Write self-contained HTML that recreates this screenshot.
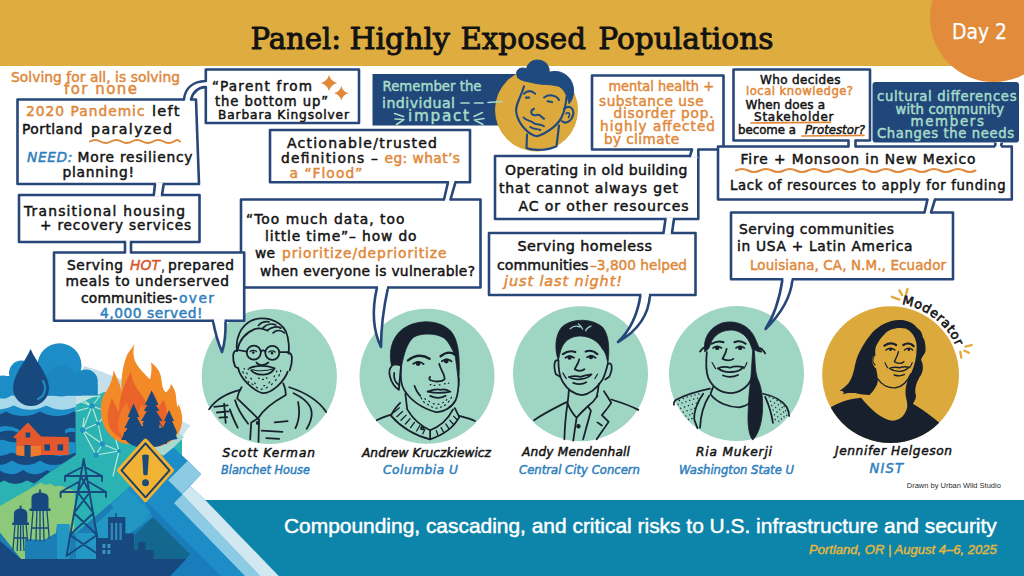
<!DOCTYPE html>
<html lang="en"><head><meta charset="utf-8"><title>Panel: Highly Exposed Populations</title>
<style>
html,body{margin:0;padding:0;background:#fff}
body{width:1024px;height:576px;overflow:hidden}
svg{display:block}
text{white-space:pre}
</style></head><body>
<svg width="1024" height="576" viewBox="0 0 1024 576">
<rect x="0" y="0" width="1024" height="66" fill="#DFAC3F"/>
<circle cx="994" cy="18" r="64" fill="#E18B3B"/>
<text x="250.4" y="48.8" textLength="90.8" lengthAdjust="spacingAndGlyphs" font-family="'DejaVu Serif','Liberation Serif',serif" font-size="30" fill="#121212" stroke="#121212" stroke-width="0.95" stroke-linejoin="round">Panel:</text>
<text x="349.4" y="48.8" textLength="100.6" lengthAdjust="spacingAndGlyphs" font-family="'DejaVu Serif','Liberation Serif',serif" font-size="30" fill="#121212" stroke="#121212" stroke-width="0.95" stroke-linejoin="round">Highly</text>
<text x="460.4" y="48.8" textLength="125.6" lengthAdjust="spacingAndGlyphs" font-family="'DejaVu Serif','Liberation Serif',serif" font-size="30" fill="#121212" stroke="#121212" stroke-width="0.95" stroke-linejoin="round">Exposed</text>
<text x="598.2" y="48.8" textLength="175.3" lengthAdjust="spacingAndGlyphs" font-family="'DejaVu Serif','Liberation Serif',serif" font-size="30" fill="#121212" stroke="#121212" stroke-width="0.95" stroke-linejoin="round">Populations</text>
<text x="952.0" y="38.7" textLength="55.0" lengthAdjust="spacingAndGlyphs" font-family="'DejaVu Sans','Liberation Sans',sans-serif" font-size="21.5" fill="#fff" stroke="#fff" stroke-width="0.25" stroke-linejoin="round">Day 2</text>
<circle cx="269.3" cy="376.5" r="67.6" fill="#9FD5C3"/>
<circle cx="427" cy="376.3" r="67.5" fill="#9FD5C3"/>
<circle cx="580.5" cy="373.7" r="67.5" fill="#9FD5C3"/>
<circle cx="736.5" cy="373.6" r="67.5" fill="#9FD5C3"/>
<circle cx="890.6" cy="374.6" r="68.4" fill="#DCA93C"/>
<g transform="translate(196,300) scale(0.26042)" fill="none" stroke="#18202E" stroke-width="6.8" stroke-linecap="round" stroke-linejoin="round">
<path d="M158 195 C150 150 170 100 215 78 C260 60 320 75 345 120 C358 150 358 190 355 205"/>
<path d="M158 195 C140 190 138 225 150 255 L162 262"/>
<path d="M355 205 C372 200 372 235 360 270"/>
<path d="M162 262 C170 300 215 345 255 358 C295 358 340 310 352 275"/>
<path d="M240 98 C250 86 265 82 280 84 M258 106 C272 92 292 90 306 96 M275 116 C290 102 312 100 326 108 M296 126 C310 114 328 116 340 126 M158 195 C165 160 185 128 225 112 C250 104 262 112 275 118"/>
<circle cx="222" cy="202" r="27"/><circle cx="293" cy="203" r="27"/><path d="M249 198 C255 192 262 192 266 198 M195 198 L160 192 M320 200 L352 200"/>
<path d="M208 198 C214 192 226 192 232 198 M280 200 C286 194 298 194 304 200" stroke-width="5"/><circle cx="220" cy="202" r="5" fill="#18202E" stroke="none"/><circle cx="292" cy="204" r="5" fill="#18202E" stroke="none"/>
<path d="M232 240 C240 252 262 254 278 240"/>
<path d="M205 262 C230 250 270 250 302 262 C285 292 235 295 212 270"/>
<path d="M215 268 C245 274 275 272 298 264" stroke-width="4"/>
<path d="M180 275 l2 6 M190 295 l3 5 M200 312 l3 4 M215 322 l4 3 M232 335 l4 3 M250 342 l5 0 M270 338 l4 -3 M290 325 l3 -4 M305 310 l3 -5 M318 292 l2 -6 M195 280 l2 4 M210 300 l3 4 M225 318 l3 3 M300 295 l2 -4 M280 318 l3 -3 M260 330 l4 -1 M240 300 l3 1 M255 305 l4 0 M270 300 l3 -1 M185 262 l1 4 M325 270 l0 5 M200 265 l1 3 M310 272 l-1 4" stroke-width="4.5"/>
<path d="M175 335 C165 350 160 365 158 378 L238 455 C255 425 300 390 345 365 C345 345 340 330 335 320"/>
<path d="M170 345 C130 355 80 375 50 420 M358 335 C420 355 470 385 500 430"/>
<path d="M238 455 L212 470 L208 535 M242 458 L240 545"/>
<circle cx="237" cy="472" r="4" fill="#18202E"/>
<path d="M302 470 L352 465 M252 502 L332 506 M270 530 L320 533"/>
<path d="M375 358 C430 385 470 420 425 495 M392 392 C400 430 395 465 382 492 M150 385 C160 420 180 450 200 475 M130 420 C140 450 150 470 160 490"/>
<path d="M70 410 L122 405 M80 432 L126 428 M90 452 L120 450 M108 398 L114 472"/>
</g>
<g transform="translate(352,300) scale(0.26042)" fill="none" stroke="#18202E" stroke-width="6.8" stroke-linecap="round" stroke-linejoin="round">
<path d="M152 255 C140 200 150 150 190 115 C240 75 330 70 380 120 C405 150 412 200 412 260 L410 330 C406 290 401 245 396 215 C386 190 372 162 355 147 C325 126 265 126 238 142 C212 162 200 205 190 255 C180 250 165 245 152 255 Z" fill="#18202E" stroke-width="3"/>
<path d="M152 255 C135 270 145 320 180 345 L188 255 M162 280 C160 300 168 318 178 325"/>
<path d="M188 255 C185 300 190 330 200 345 C225 385 270 415 320 430 C350 435 385 410 398 385 C408 360 410 330 410 300"/>
<path d="M215 232 C240 212 270 208 298 226" stroke-width="9"/><path d="M340 216 C360 200 380 198 396 210" stroke-width="9"/>
<path d="M235 245 C250 235 265 236 275 246 M345 235 C358 226 372 226 382 236"/><circle cx="254" cy="244" r="6" fill="#18202E"/><circle cx="362" cy="234" r="6" fill="#18202E"/>
<path d="M335 245 C340 270 360 290 355 305 C345 315 320 315 302 308 M300 295 C295 300 296 306 302 308"/>
<path d="M290 352 C310 345 325 340 340 345 C355 340 365 345 378 352 C350 358 320 358 290 352 Z M300 368 C320 378 345 378 360 368"/>
<path d="M240 330 C245 345 255 360 262 368"/>
<path d="M265 375 l3 5 M275 390 l3 4 M290 400 l4 3 M305 410 l4 2 M322 415 l5 0 M340 412 l4 -2 M355 405 l4 -3 M370 392 l3 -4 M380 378 l2 -5 M280 378 l2 4 M295 388 l3 3 M312 398 l4 1 M330 400 l4 0 M348 395 l3 -2 M362 385 l2 -3 M300 325 l3 0 M315 328 l3 0 M335 326 l3 0 M355 322 l3 -1 M370 320 l2 -1" stroke-width="4.5"/>
<path d="M205 360 L212 420 M212 420 C230 450 255 480 300 500 C340 485 370 455 388 420"/>
<path d="M185 395 C165 415 155 430 150 445 C190 490 240 520 300 535 C345 520 390 490 412 450 L395 415"/>
<path d="M160 432 l22 -18 M172 448 l22 -20 M188 462 l20 -20 M205 476 l18 -20 M225 490 l15 -20 M248 503 l12 -20 M272 514 l8 -18 M330 520 l-6 -18 M352 508 l-10 -18 M372 494 l-12 -18 M390 478 l-14 -16 M404 460 l-14 -14" stroke-width="5"/>
<path d="M300 500 L300 535"/><circle cx="270" cy="492" r="5"/>
<path d="M150 440 C125 448 105 455 95 462 M412 445 C440 452 460 458 472 465"/>
</g>
<g transform="translate(505,300) scale(0.26042)" fill="none" stroke="#18202E" stroke-width="6.8" stroke-linecap="round" stroke-linejoin="round">
<path d="M205 232 C190 190 192 140 215 108 C245 72 330 65 375 105 C400 135 402 190 395 245 C390 215 385 200 375 190 C360 160 330 140 290 138 C250 138 225 160 215 190 C210 205 208 220 205 232 Z" fill="#18202E" stroke-width="3"/>
<path d="M250 110 C262 100 275 98 288 104 M282 92 C290 98 296 105 298 112 M330 100 C320 104 312 110 310 118" stroke="#9FD5C3" stroke-width="5"/>
<path d="M205 232 C190 225 185 250 195 285 L212 295 M395 245 C412 235 415 265 400 295 L385 305"/>
<path d="M205 232 C205 270 210 295 222 315 C240 345 265 362 295 365 C325 362 355 335 375 305 C385 285 390 265 395 245"/>
<path d="M222 208 C238 196 255 194 270 200 M310 198 C325 192 342 196 355 208" stroke-width="8"/>
<path d="M232 222 C242 214 255 214 265 222 M315 220 C325 213 338 213 348 222"/><circle cx="248" cy="221" r="5" fill="#18202E"/><circle cx="330" cy="219" r="5" fill="#18202E"/>
<path d="M285 228 C282 245 270 258 268 266 C278 274 295 274 305 266"/>
<path d="M245 296 C265 290 280 292 290 295 C305 290 320 288 332 286 C315 305 270 312 245 296 Z M262 318 C278 324 298 324 312 316"/>
<path d="M222 280 C228 290 232 298 236 302 M355 285 C350 292 348 298 345 302" stroke-width="4.5"/>
<path d="M245 348 C244 370 242 385 240 398 M360 322 C358 345 355 360 352 372"/>
<path d="M240 398 C250 420 262 440 275 452 C290 435 305 420 318 408 C335 395 348 380 355 368"/>
<path d="M240 398 C235 430 230 470 228 535 M275 452 L262 540 M318 408 L330 425 L300 535"/>
<circle cx="282" cy="485" r="5" fill="#18202E"/>
<path d="M380 350 C390 365 400 380 408 395 C395 415 382 430 372 442 L398 468 C380 495 365 515 352 535"/>
<path d="M236 392 C190 415 140 440 112 462 M408 382 C450 395 490 410 512 422"/>
<path d="M355 470 L372 482"/>
</g>
<g transform="translate(661,300) scale(0.26042)" fill="none" stroke="#18202E" stroke-width="6.8" stroke-linecap="round" stroke-linejoin="round">
<path d="M168 198 C160 150 185 105 235 88 C285 75 335 95 358 140 C370 165 375 185 388 200 C375 200 365 195 358 190 C362 230 360 270 370 300 C385 330 392 370 390 420 C388 470 375 515 352 538 C335 515 332 470 335 420 C336 380 340 340 345 300 C348 260 350 225 352 195 C340 150 320 125 280 116 C235 112 200 135 190 170 C185 185 180 195 168 198 Z" fill="#18202E" stroke-width="3"/>
<path d="M170 180 C160 185 155 190 150 198 M380 185 C388 188 395 195 400 205"/>
<path d="M176 200 C172 240 172 275 182 300 C198 335 230 355 265 358 C300 358 335 335 348 300"/>
<path d="M195 168 C210 158 225 157 240 162 M282 162 C298 156 312 158 325 168" stroke-width="8"/>
<path d="M200 184 C210 177 222 177 232 184 M288 184 C298 177 310 177 320 184"/><circle cx="216" cy="184" r="5" fill="#18202E"/><circle cx="304" cy="184" r="5" fill="#18202E"/>
<path d="M252 188 C250 205 240 218 236 226 C248 234 268 234 278 226"/>
<path d="M218 262 C238 255 255 256 265 260 C280 254 300 254 316 258 C298 280 245 284 218 262 Z M238 290 C255 296 278 296 296 288"/>
<path d="M196 240 C202 250 206 258 210 264 M330 240 C326 250 322 258 318 264" stroke-width="4.5"/>
<path d="M200 335 C195 345 192 355 190 362 C215 395 260 412 300 412 C315 410 328 405 338 398"/>
<path d="M188 340 C140 350 90 365 55 385 C45 395 50 400 50 402"/>
<path d="M162 360 C140 390 125 430 128 460 L140 492 M185 368 C165 400 152 440 150 490"/>
<path d="M392 360 C430 368 465 385 482 410 C490 425 492 440 492 445 M400 372 C415 405 425 440 430 472"/>
<g stroke-width="4.5"><path d="M70 385 l1 1 M85 378 l1 1 M100 372 l1 1 M115 368 l1 1 M130 364 l1 1 M145 360 l1 1 M65 400 l1 1 M80 395 l1 1 M95 390 l1 1 M110 385 l1 1 M125 380 l1 1 M140 377 l1 1 M75 415 l1 1 M90 410 l1 1 M105 405 l1 1 M120 400 l1 1 M135 395 l1 1 M85 430 l1 1 M100 425 l1 1 M115 420 l1 1 M128 415 l1 1 M95 445 l1 1 M110 440 l1 1 M120 435 l1 1 M105 458 l1 1 M118 455 l1 1"/>
<path d="M415 372 l1 1 M430 378 l1 1 M445 385 l1 1 M460 395 l1 1 M472 408 l1 1 M420 388 l1 1 M435 395 l1 1 M450 402 l1 1 M465 412 l1 1 M478 425 l1 1 M425 405 l1 1 M440 412 l1 1 M455 420 l1 1 M470 430 l1 1 M482 442 l1 1 M430 422 l1 1 M445 430 l1 1 M460 438 l1 1 M472 448 l1 1 M435 440 l1 1 M448 448 l1 1 M462 456 l1 1 M438 458 l1 1 M452 465 l1 1"/></g>
</g>
<clipPath id="cj"><circle cx="890.6" cy="374.6" r="68.4"/></clipPath>
<g clip-path="url(#cj)"><g transform="translate(815,290) scale(0.27778)" fill="none" stroke="#18202E" stroke-width="6.8" stroke-linecap="round" stroke-linejoin="round">
<path d="M307 108 C270 106 230 128 207 152 C185 178 160 218 151 245 C142 270 142 300 126 327 C120 340 105 352 88 364 C100 362 108 366 100 376 C118 368 130 372 145 371 C160 375 175 378 188 377 L345 422 C355 405 366 392 363 377 C358 360 362 340 376 314 C392 295 391 270 382 252 C385 235 400 230 398 214 C398 195 396 180 388 170 C386 155 380 146 370 139 C360 125 350 118 338 114 C328 110 318 108 307 108 Z" fill="#18202E" stroke="none"/>
<path d="M251 158 C265 140 300 132 326 139 C350 148 368 180 366 208 C366 240 360 270 345 302 C332 325 325 345 326 377 L332 408 L345 440 L290 482 L200 440 L168 393 C190 385 205 372 213 358 C222 345 228 332 226 320 C225 305 222 295 220 283 C210 275 203 260 207 245 C210 235 215 235 218 238 C216 225 216 212 220 202 C228 185 238 170 251 158 Z" fill="#DCA93C" stroke="none"/>
<path d="M58 421 C95 400 130 392 166 388 C200 430 240 466 280 471 C310 468 328 445 332 420 C332 412 332 405 333 398 C380 425 430 460 472 500 L472 600 L40 600 Z" fill="#18202E" stroke="none"/>
<path d="M250 200 C265 190 280 190 292 198 M318 198 C330 190 345 192 355 202" stroke-width="8"/>
<path d="M255 216 C265 208 278 208 288 216 M322 216 C332 208 344 208 352 216" stroke-width="5"/><circle cx="272" cy="215" r="5" fill="#18202E" stroke="none"/><circle cx="338" cy="215" r="5" fill="#18202E" stroke="none"/>
<path d="M300 222 C298 238 288 250 286 258 C296 266 312 266 320 258" stroke-width="5"/>
<path d="M268 282 C285 276 298 278 305 280 C315 276 328 276 338 278 C322 296 290 298 268 282 Z M285 306 C298 310 312 310 322 304" stroke-width="5"/>
<path d="M226 320 C240 342 265 354 290 352 C315 348 335 325 345 302" stroke-width="5"/>
<path d="M252 262 C256 270 258 276 262 280 M350 262 C346 270 344 276 340 280" stroke-width="4"/>
<path d="M212 240 C206 250 208 262 216 270" stroke-width="4"/>
</g></g>
<path id="modarc" d="M901.8 304.2 A71.3 71.3 0 0 1 956.7 347.9" fill="none"/>
<text font-family="'DejaVu Sans','Liberation Sans',sans-serif" font-size="12.8" fill="#141414" stroke="#141414" stroke-width="0.6"><textPath href="#modarc" textLength="71.4" lengthAdjust="spacing">Moderator</textPath></text>
<path d="M891.8 296.8 L899.4 299.6 M899.4 290.3 L902.2 295.1 M907.5 288.9 L906.1 294.4 M965.4 346.5 L971.7 345.1 M964.4 350.7 L968.9 352.8 M960.3 352 L961.3 357.6" stroke="#E3A93A" stroke-width="2.3" stroke-linecap="round" fill="none"/>
<path d="M17.5 99.5 L196 99.5 L199 184 L17.5 184 Z" fill="#fff" stroke="#27477A" stroke-width="2.6" stroke-linejoin="round" stroke-linecap="round"/>
<rect x="205.8" y="69.5" width="153.2" height="53.5" rx="0" fill="#fff" stroke="#27477A" stroke-width="2.6" stroke-linejoin="round"/>
<rect x="270" y="130" width="200" height="52.19999999999999" rx="0" fill="#fff" stroke="#27477A" stroke-width="2.6" stroke-linejoin="round"/>
<rect x="592" y="75.5" width="131.5" height="74.0" rx="0" fill="#fff" stroke="#27477A" stroke-width="2.6" stroke-linejoin="round"/>
<rect x="733.5" y="69.5" width="136.5" height="71.0" rx="0" fill="#fff" stroke="#27477A" stroke-width="2.6" stroke-linejoin="round"/>
<rect x="718" y="146.5" width="293.79999999999995" height="53.0" rx="0" fill="#fff" stroke="#27477A" stroke-width="2.6" stroke-linejoin="round"/>
<rect x="495" y="156" width="203.29999999999995" height="63" rx="0" fill="#fff" stroke="#27477A" stroke-width="2.6" stroke-linejoin="round"/>
<rect x="19" y="195" width="180.5" height="47" rx="0" fill="#fff" stroke="#27477A" stroke-width="2.6" stroke-linejoin="round"/>
<rect x="241" y="199.5" width="239.5" height="88.0" rx="0" fill="#fff" stroke="#27477A" stroke-width="2.6" stroke-linejoin="round"/>
<rect x="54" y="252.5" width="190.2" height="68.30000000000001" rx="0" fill="#fff" stroke="#27477A" stroke-width="2.6" stroke-linejoin="round"/>
<rect x="489" y="233" width="206.5" height="62" rx="0" fill="#fff" stroke="#27477A" stroke-width="2.6" stroke-linejoin="round"/>
<rect x="731" y="212.5" width="222" height="66.80000000000001" rx="0" fill="#fff" stroke="#27477A" stroke-width="2.6" stroke-linejoin="round"/>
<rect x="372.5" y="74" width="150" height="51.5" fill="#20467A"/>
<rect x="872.5" y="82" width="146.5" height="60.5" rx="3" fill="#20467A"/>
<path d="M155 182.4 L163.7 182.4 L162 196.6 L153.8 196.6 Z" fill="#fff"/>
<path d="M155 184 L153.8 195 M163.7 184 L162 195" fill="none" stroke="#27477A" stroke-width="2.6" stroke-linecap="round"/>
<path d="M125 240.4 L131 240.4 L131 254.1 L125 254.1 Z" fill="#fff"/>
<path d="M125 242 L125 252.5 M131 242 L131 252.5" fill="none" stroke="#27477A" stroke-width="2.6" stroke-linecap="round"/>
<path d="M448 180.6 L455.5 180.6 L450.5 201.1 L444 201.1 Z" fill="#fff"/>
<path d="M448 182.2 L444 199.5 M455.5 182.2 L450.5 199.5" fill="none" stroke="#27477A" stroke-width="2.6" stroke-linecap="round"/>
<path d="M692 147.9 L698.3 147.9 L698.3 157.6 L690 157.6 Z" fill="#fff"/>
<path d="M692 149.5 L690 156 M698.3 149.5 L698.3 156" fill="none" stroke="#27477A" stroke-width="2.6" stroke-linecap="round"/>
<path d="M665.5 217.4 L674 217.4 L672 234.6 L663.5 234.6 Z" fill="#fff"/>
<path d="M665.5 219 L663.5 233 M674 219 L672 233" fill="none" stroke="#27477A" stroke-width="2.6" stroke-linecap="round"/>
<path d="M848.5 138.9 L855.5 138.9 L855.5 148.1 L848.5 148.1 Z" fill="#fff"/>
<path d="M848.5 140.5 L848.5 146.5 M855.5 140.5 L855.5 146.5" fill="none" stroke="#27477A" stroke-width="2.6" stroke-linecap="round"/>
<path d="M927.5 197.9 L935 197.9 L931 214.1 L924.5 214.1 Z" fill="#fff"/>
<path d="M927.5 199.5 L924.5 212.5 M935 199.5 L931 212.5" fill="none" stroke="#27477A" stroke-width="2.6" stroke-linecap="round"/>
<path d="M995.5 142 L995 148 L1001 148 L1001.8 142 Z" fill="#fff"/>
<path d="M995.5 142.5 L995 146.5 M1001.8 142.5 L1001 146.5" stroke="#27477A" stroke-width="2.6" fill="none"/>
<path d="M184 101.2 L184 97.8 L191 97.8 L191 101.2 Z M204 81 L207.5 81 L207.5 87 L204 87 Z" fill="#fff"/>
<path d="M184 99.5 C185 88 193 81.5 205.8 81 M191 99.5 C193 92 197 87.5 205.8 87" fill="none" stroke="#27477A" stroke-width="2.6" stroke-linecap="round"/>
<path d="M213 319.2 L225.5 319.2 L225.5 321.8 L213 321.8 Z" fill="#fff"/>
<path d="M213 320.8 Q216 338 222 352 Q226 340 225.5 320.8" fill="#fff" stroke="#27477A" stroke-width="2.6" stroke-linejoin="round" stroke-linecap="round"/>
<path d="M214.2 320.8 L224.3 320.8" stroke="#fff" stroke-width="3" />
<path d="M377 285.9 L388 285.9 L388 288.5 L377 288.5 Z" fill="#fff"/>
<path d="M377 287.5 Q369 322 381 347 Q381 320 388 287.5" fill="#fff" stroke="#27477A" stroke-width="2.6" stroke-linejoin="round" stroke-linecap="round"/>
<path d="M378.2 287.5 L386.8 287.5" stroke="#fff" stroke-width="3" />
<path d="M640.5 293.4 L650 293.4 L650 296 L640.5 296 Z" fill="#fff"/>
<path d="M640.5 295 Q636 325 618 342 Q648 325 650 295" fill="#fff" stroke="#27477A" stroke-width="2.6" stroke-linejoin="round" stroke-linecap="round"/>
<path d="M641.7 295 L648.8 295" stroke="#fff" stroke-width="3" />
<path d="M782.5 277.7 L792.5 277.7 L792.5 280.3 L782.5 280.3 Z" fill="#fff"/>
<path d="M782.5 279.3 Q778 310 765.5 329 Q790 305 792.5 279.3" fill="#fff" stroke="#27477A" stroke-width="2.6" stroke-linejoin="round" stroke-linecap="round"/>
<path d="M783.7 279.3 L791.3 279.3" stroke="#fff" stroke-width="3" />
<circle cx="536.5" cy="110" r="41.5" fill="#DCA93C"/>
<g transform="translate(384,60) scale(0.25)" fill="none" stroke-linecap="round" stroke-linejoin="round">
<path d="M560 105 C548 150 520 185 530 215 C540 260 580 300 612 305 C660 290 700 255 712 225 C730 190 728 150 735 120" stroke="#1F4A80" stroke-width="8.5"/>
<path d="M572 298 L570 352 C600 365 660 360 690 345 L700 262" stroke="#1F4A80" stroke-width="8.5"/>
<path d="M720 195 C745 175 770 200 750 235 C740 250 725 255 712 245" stroke="#1F4A80" stroke-width="8.5"/>
<path d="M728 215 C738 205 748 215 738 230" stroke="#1F4A80" stroke-width="6.5"/>
<path d="M560 135 C575 120 590 122 605 135 M640 150 C660 135 690 140 700 160" stroke="#1F4A80" stroke-width="8"/>
<path d="M568 150 L580 150 M655 165 L672 168" stroke="#1F4A80" stroke-width="9"/>
<path d="M600 195 C580 205 590 225 610 220 C625 215 630 230 640 235" stroke="#1F4A80" stroke-width="8"/>
<path d="M558 230 C570 245 585 240 595 250 C610 262 625 255 640 265 M585 268 C600 278 615 275 625 280" stroke="#1F4A80" stroke-width="8"/>
<path d="M535 70 C520 40 545 25 570 35 C575 5 610 -12 645 10 C665 30 660 45 660 50 C700 35 745 60 755 100 C765 135 750 165 740 175 C735 150 725 120 700 105 C665 95 620 100 590 90 C570 85 550 85 535 70 Z" fill="#1F4A80" stroke="#1F4A80" stroke-width="4"/>
</g>
<text x="11.0" y="82.0" textLength="169.0" lengthAdjust="spacing" font-family="'DejaVu Sans','Liberation Sans',sans-serif" font-size="13.799999999999999" fill="#E0893A" stroke="#E0893A" stroke-width="0.5" stroke-linejoin="round">Solving for all, is solving</text>
<text x="64.0" y="94.0" textLength="73.0" lengthAdjust="spacing" font-family="'DejaVu Sans','Liberation Sans',sans-serif" font-size="14.99" fill="#E0893A" stroke="#E0893A" stroke-width="0.5" stroke-linejoin="round">for none</text>
<text x="26.0" y="115.5" textLength="118.5" lengthAdjust="spacing" font-family="'DejaVu Sans','Liberation Sans',sans-serif" font-size="13.799999999999999" fill="#E0893A" stroke="#E0893A" stroke-width="0.5" stroke-linejoin="round">2020 Pandemic</text>
<text x="152.0" y="115.5" textLength="27.5" lengthAdjust="spacing" font-family="'DejaVu Sans','Liberation Sans',sans-serif" font-size="14.6" fill="#141414" stroke="#141414" stroke-width="0.5" stroke-linejoin="round">left</text>
<text x="22.0" y="133.8" textLength="60.5" lengthAdjust="spacing" font-family="'DejaVu Sans','Liberation Sans',sans-serif" font-size="13.799999999999999" fill="#141414" stroke="#141414" stroke-width="0.5" stroke-linejoin="round">Portland</text>
<text x="91.0" y="133.8" textLength="81.0" lengthAdjust="spacing" font-family="'DejaVu Sans','Liberation Sans',sans-serif" font-size="14.17" fill="#141414" stroke="#141414" stroke-width="0.5" stroke-linejoin="round">paralyzed</text>
<path d="M90.0 141.5 Q95.2 138.5 100.5 141.5 Q105.8 144.5 111.0 141.5 Q116.2 138.5 121.5 141.5 Q126.8 144.5 132.0 141.5 Q137.2 138.5 142.5 141.5 Q147.8 144.5 153.0 141.5 Q158.2 138.5 163.5 141.5 Q168.8 144.5 174.0 141.5 Q177.0 138.5 180.0 141.5" fill="none" stroke="#E0893A" stroke-width="2" stroke-linecap="round"/>
<text x="27.0" y="162.0" textLength="45.5" lengthAdjust="spacing" font-family="'DejaVu Sans','Liberation Sans',sans-serif" font-size="13.799999999999999" fill="#2F80BE" font-style="italic" stroke="#2F80BE" stroke-width="0.5" stroke-linejoin="round">NEED:</text>
<text x="77.5" y="162.0" textLength="115.0" lengthAdjust="spacing" font-family="'DejaVu Sans','Liberation Sans',sans-serif" font-size="13.799999999999999" fill="#141414" stroke="#141414" stroke-width="0.5" stroke-linejoin="round">More resiliency</text>
<text x="62.5" y="176.5" textLength="71.5" lengthAdjust="spacing" font-family="'DejaVu Sans','Liberation Sans',sans-serif" font-size="13.799999999999999" fill="#141414" stroke="#141414" stroke-width="0.5" stroke-linejoin="round">planning!</text>
<text x="212.0" y="91.0" textLength="100.0" lengthAdjust="spacing" font-family="'DejaVu Sans','Liberation Sans',sans-serif" font-size="13.59" fill="#141414" stroke="#141414" stroke-width="0.5" stroke-linejoin="round">“Parent from</text>
<text x="215.0" y="106.0" textLength="113.0" lengthAdjust="spacing" font-family="'DejaVu Sans','Liberation Sans',sans-serif" font-size="13.2" fill="#141414" stroke="#141414" stroke-width="0.5" stroke-linejoin="round">the bottom up”</text>
<text x="218.0" y="119.0" textLength="131.0" lengthAdjust="spacing" font-family="'DejaVu Sans','Liberation Sans',sans-serif" font-size="12.2" fill="#141414" stroke="#141414" stroke-width="0.5" stroke-linejoin="round">Barbara Kingsolver</text>
<text x="287.0" y="147.5" textLength="150.0" lengthAdjust="spacing" font-family="'DejaVu Sans','Liberation Sans',sans-serif" font-size="14.01" fill="#141414" stroke="#141414" stroke-width="0.5" stroke-linejoin="round">Actionable/trusted</text>
<text x="281.0" y="163.0" textLength="97.0" lengthAdjust="spacing" font-family="'DejaVu Sans','Liberation Sans',sans-serif" font-size="13.799999999999999" fill="#141414" stroke="#141414" stroke-width="0.5" stroke-linejoin="round">definitions –</text>
<text x="384.5" y="163.0" textLength="75.5" lengthAdjust="spacing" font-family="'DejaVu Sans','Liberation Sans',sans-serif" font-size="13.799999999999999" fill="#E0893A" stroke="#E0893A" stroke-width="0.5" stroke-linejoin="round">eg: what’s</text>
<text x="289.5" y="178.0" textLength="73.0" lengthAdjust="spacing" font-family="'DejaVu Sans','Liberation Sans',sans-serif" font-size="13.799999999999999" fill="#E0893A" stroke="#E0893A" stroke-width="0.5" stroke-linejoin="round">a “Flood”</text>
<text x="382.5" y="91.0" textLength="99.0" lengthAdjust="spacingAndGlyphs" font-family="'DejaVu Sans','Liberation Sans',sans-serif" font-size="14.2" fill="#A6DCC8" stroke="#A6DCC8" stroke-width="0.5" stroke-linejoin="round">Remember the</text>
<text x="382.0" y="107.5" textLength="73.0" lengthAdjust="spacing" font-family="'DejaVu Sans','Liberation Sans',sans-serif" font-size="14.2" fill="#A6DCC8" stroke="#A6DCC8" stroke-width="0.5" stroke-linejoin="round">individual</text>
<text x="408.0" y="121.0" textLength="61.0" lengthAdjust="spacing" font-family="'DejaVu Sans','Liberation Sans',sans-serif" font-size="15.26" fill="#A6DCC8" stroke="#A6DCC8" stroke-width="0.5" stroke-linejoin="round">impact</text>
<path d="M394.5 113.5 L403.5 116.5 M395 119 L404 119.5 L396.5 124.5 M482.5 112.5 L474 116.5 M484 118.5 L474.5 120 L483 124.5" stroke="#A6DCC8" stroke-width="1.6" stroke-linecap="round" stroke-linejoin="round" fill="none"/>
<path d="M461 103 L469 103 M474.5 103 L483 103 M488 102.5 L502 101.5" stroke="#A6DCC8" stroke-width="1.7" stroke-linecap="round" fill="none"/>
<text x="608.5" y="90.5" textLength="105.5" lengthAdjust="spacingAndGlyphs" font-family="'DejaVu Sans','Liberation Sans',sans-serif" font-size="13.6" fill="#E0893A" stroke="#E0893A" stroke-width="0.5" stroke-linejoin="round">mental health +</text>
<text x="599.0" y="105.5" textLength="104.5" lengthAdjust="spacing" font-family="'DejaVu Sans','Liberation Sans',sans-serif" font-size="13.6" fill="#E0893A" stroke="#E0893A" stroke-width="0.5" stroke-linejoin="round">substance use</text>
<text x="613.5" y="117.5" textLength="100.0" lengthAdjust="spacing" font-family="'DejaVu Sans','Liberation Sans',sans-serif" font-size="13.6" fill="#E0893A" stroke="#E0893A" stroke-width="0.5" stroke-linejoin="round">disorder pop.</text>
<text x="600.0" y="131.0" textLength="115.0" lengthAdjust="spacing" font-family="'DejaVu Sans','Liberation Sans',sans-serif" font-size="13.6" fill="#E0893A" stroke="#E0893A" stroke-width="0.5" stroke-linejoin="round">highly affected</text>
<text x="604.0" y="144.0" textLength="75.0" lengthAdjust="spacing" font-family="'DejaVu Sans','Liberation Sans',sans-serif" font-size="13.6" fill="#E0893A" stroke="#E0893A" stroke-width="0.5" stroke-linejoin="round">by climate</text>
<text x="760.0" y="84.0" textLength="80.5" lengthAdjust="spacing" font-family="'DejaVu Sans','Liberation Sans',sans-serif" font-size="12.0" fill="#141414" stroke="#141414" stroke-width="0.5" stroke-linejoin="round">Who decides</text>
<text x="746.0" y="94.8" textLength="107.0" lengthAdjust="spacing" font-family="'DejaVu Sans','Liberation Sans',sans-serif" font-size="11.6" fill="#E0893A" stroke="#E0893A" stroke-width="0.5" stroke-linejoin="round">local knowledge?</text>
<text x="745.5" y="108.8" textLength="79.5" lengthAdjust="spacing" font-family="'DejaVu Sans','Liberation Sans',sans-serif" font-size="12.0" fill="#141414" stroke="#141414" stroke-width="0.5" stroke-linejoin="round">When does a</text>
<text x="754.0" y="120.8" textLength="79.5" lengthAdjust="spacing" font-family="'DejaVu Sans','Liberation Sans',sans-serif" font-size="12.0" fill="#141414" stroke="#141414" stroke-width="0.5" stroke-linejoin="round">Stakeholder</text>
<text x="738.0" y="133.8" textLength="58.0" lengthAdjust="spacingAndGlyphs" font-family="'DejaVu Sans','Liberation Sans',sans-serif" font-size="12.0" fill="#141414" stroke="#141414" stroke-width="0.5" stroke-linejoin="round">become a</text>
<text x="805.0" y="133.8" textLength="60.0" lengthAdjust="spacingAndGlyphs" font-family="'DejaVu Sans','Liberation Sans',sans-serif" font-size="12.0" fill="#141414" font-style="italic" stroke="#141414" stroke-width="0.5" stroke-linejoin="round">Protestor?</text>
<path d="M751 123 L830.5 122.3 M802 136 L864 135.3" stroke="#E0893A" stroke-width="1.7" stroke-linecap="round" fill="none"/>
<text x="877.0" y="101.0" textLength="139.5" lengthAdjust="spacing" font-family="'DejaVu Sans','Liberation Sans',sans-serif" font-size="13.2" fill="#A6DCC8" stroke="#A6DCC8" stroke-width="0.5" stroke-linejoin="round">cultural differences</text>
<text x="895.5" y="113.8" textLength="108.5" lengthAdjust="spacing" font-family="'DejaVu Sans','Liberation Sans',sans-serif" font-size="13.2" fill="#A6DCC8" stroke="#A6DCC8" stroke-width="0.5" stroke-linejoin="round">with community</text>
<text x="910.5" y="126.0" textLength="73.5" lengthAdjust="spacing" font-family="'DejaVu Sans','Liberation Sans',sans-serif" font-size="13.33" fill="#A6DCC8" stroke="#A6DCC8" stroke-width="0.5" stroke-linejoin="round">members</text>
<text x="877.0" y="137.5" textLength="137.0" lengthAdjust="spacing" font-family="'DejaVu Sans','Liberation Sans',sans-serif" font-size="13.2" fill="#A6DCC8" stroke="#A6DCC8" stroke-width="0.5" stroke-linejoin="round">Changes the needs</text>
<text x="740.5" y="164.0" textLength="235.0" lengthAdjust="spacing" font-family="'DejaVu Sans','Liberation Sans',sans-serif" font-size="13.799999999999999" fill="#141414" stroke="#141414" stroke-width="0.5" stroke-linejoin="round">Fire + Monsoon in New Mexico</text>
<path d="M736.0 170.5 Q742.0 167.5 748.0 170.5 Q754.0 173.5 760.0 170.5 Q766.0 167.5 772.0 170.5 Q778.0 173.5 784.0 170.5 Q790.0 167.5 796.0 170.5 Q802.0 173.5 808.0 170.5 Q814.0 167.5 820.0 170.5 Q826.0 173.5 832.0 170.5 Q838.0 167.5 844.0 170.5 Q850.0 173.5 856.0 170.5 Q862.0 167.5 868.0 170.5 Q874.0 173.5 880.0 170.5 Q886.0 167.5 892.0 170.5 Q898.0 173.5 904.0 170.5 Q910.0 167.5 916.0 170.5 Q922.0 173.5 928.0 170.5 Q934.0 167.5 940.0 170.5 Q946.0 173.5 952.0 170.5 Q958.0 167.5 964.0 170.5 Q969.8 173.5 975.5 170.5" fill="none" stroke="#E0893A" stroke-width="2" stroke-linecap="round"/>
<text x="730.0" y="189.5" textLength="275.5" lengthAdjust="spacing" font-family="'DejaVu Sans','Liberation Sans',sans-serif" font-size="13.2" fill="#141414" stroke="#141414" stroke-width="0.5" stroke-linejoin="round">Lack of resources to apply for funding</text>
<text x="505.0" y="175.0" textLength="182.5" lengthAdjust="spacing" font-family="'DejaVu Sans','Liberation Sans',sans-serif" font-size="14.0" fill="#141414" stroke="#141414" stroke-width="0.5" stroke-linejoin="round">Operating in old building</text>
<text x="499.0" y="193.0" textLength="179.0" lengthAdjust="spacing" font-family="'DejaVu Sans','Liberation Sans',sans-serif" font-size="14.0" fill="#141414" stroke="#141414" stroke-width="0.5" stroke-linejoin="round">that cannot always get</text>
<text x="518.5" y="211.0" textLength="170.0" lengthAdjust="spacing" font-family="'DejaVu Sans','Liberation Sans',sans-serif" font-size="14.0" fill="#141414" stroke="#141414" stroke-width="0.5" stroke-linejoin="round">AC or other resources</text>
<text x="24.0" y="216.0" textLength="161.0" lengthAdjust="spacing" font-family="'DejaVu Sans','Liberation Sans',sans-serif" font-size="13.86" fill="#141414" stroke="#141414" stroke-width="0.5" stroke-linejoin="round">Transitional housing</text>
<text x="40.0" y="230.0" textLength="151.0" lengthAdjust="spacing" font-family="'DejaVu Sans','Liberation Sans',sans-serif" font-size="13.6" fill="#141414" stroke="#141414" stroke-width="0.5" stroke-linejoin="round">+ recovery services</text>
<text x="67.0" y="270.0" textLength="56.0" lengthAdjust="spacing" font-family="'DejaVu Sans','Liberation Sans',sans-serif" font-size="13.799999999999999" fill="#141414" stroke="#141414" stroke-width="0.5" stroke-linejoin="round">Serving</text>
<text x="130.0" y="270.0" textLength="30.0" lengthAdjust="spacing" font-family="'DejaVu Sans','Liberation Sans',sans-serif" font-size="13.799999999999999" fill="#D8572C" font-style="italic" stroke="#D8572C" stroke-width="0.5" stroke-linejoin="round">HOT</text>
<text x="161.5" y="270.5" textLength="3.0" lengthAdjust="spacingAndGlyphs" font-family="'DejaVu Sans','Liberation Sans',sans-serif" font-size="13.799999999999999" fill="#141414" stroke="#141414" stroke-width="0.5" stroke-linejoin="round">,</text>
<text x="168.0" y="270.0" textLength="66.0" lengthAdjust="spacing" font-family="'DejaVu Sans','Liberation Sans',sans-serif" font-size="13.799999999999999" fill="#141414" stroke="#141414" stroke-width="0.5" stroke-linejoin="round">prepared</text>
<text x="65.5" y="286.0" textLength="163.5" lengthAdjust="spacing" font-family="'DejaVu Sans','Liberation Sans',sans-serif" font-size="13.799999999999999" fill="#141414" stroke="#141414" stroke-width="0.5" stroke-linejoin="round">meals to underserved</text>
<text x="81.0" y="303.0" textLength="96.5" lengthAdjust="spacing" font-family="'DejaVu Sans','Liberation Sans',sans-serif" font-size="13.799999999999999" fill="#141414" stroke="#141414" stroke-width="0.5" stroke-linejoin="round">communities-</text>
<text x="179.0" y="303.0" textLength="35.0" lengthAdjust="spacing" font-family="'DejaVu Sans','Liberation Sans',sans-serif" font-size="13.799999999999999" fill="#2F80BE" stroke="#2F80BE" stroke-width="0.5" stroke-linejoin="round">over</text>
<text x="100.0" y="318.0" textLength="102.5" lengthAdjust="spacing" font-family="'DejaVu Sans','Liberation Sans',sans-serif" font-size="13.799999999999999" fill="#2F80BE" stroke="#2F80BE" stroke-width="0.5" stroke-linejoin="round">4,000 served!</text>
<text x="246.0" y="224.0" textLength="158.5" lengthAdjust="spacing" font-family="'DejaVu Sans','Liberation Sans',sans-serif" font-size="13.799999999999999" fill="#141414" stroke="#141414" stroke-width="0.5" stroke-linejoin="round">“Too much data, too</text>
<text x="265.0" y="241.0" textLength="151.5" lengthAdjust="spacing" font-family="'DejaVu Sans','Liberation Sans',sans-serif" font-size="13.799999999999999" fill="#141414" stroke="#141414" stroke-width="0.5" stroke-linejoin="round">little time”– how do</text>
<text x="255.0" y="257.5" textLength="20.0" lengthAdjust="spacing" font-family="'DejaVu Sans','Liberation Sans',sans-serif" font-size="13.799999999999999" fill="#141414" stroke="#141414" stroke-width="0.5" stroke-linejoin="round">we</text>
<text x="282.0" y="257.5" textLength="164.5" lengthAdjust="spacing" font-family="'DejaVu Sans','Liberation Sans',sans-serif" font-size="13.799999999999999" fill="#E0893A" stroke="#E0893A" stroke-width="0.5" stroke-linejoin="round">prioritize/deprioritize</text>
<text x="260.0" y="276.0" textLength="215.0" lengthAdjust="spacing" font-family="'DejaVu Sans','Liberation Sans',sans-serif" font-size="13.799999999999999" fill="#141414" stroke="#141414" stroke-width="0.5" stroke-linejoin="round">when everyone is vulnerable?</text>
<text x="517.5" y="251.0" textLength="134.5" lengthAdjust="spacing" font-family="'DejaVu Sans','Liberation Sans',sans-serif" font-size="14.399999999999999" fill="#141414" stroke="#141414" stroke-width="0.5" stroke-linejoin="round">Serving homeless</text>
<text x="497.0" y="269.5" textLength="91.5" lengthAdjust="spacingAndGlyphs" font-family="'DejaVu Sans','Liberation Sans',sans-serif" font-size="14.399999999999999" fill="#141414" stroke="#141414" stroke-width="0.5" stroke-linejoin="round">communities</text>
<text x="590.0" y="269.5" textLength="97.0" lengthAdjust="spacingAndGlyphs" font-family="'DejaVu Sans','Liberation Sans',sans-serif" font-size="14.399999999999999" fill="#E0893A" stroke="#E0893A" stroke-width="0.5" stroke-linejoin="round">–3,800 helped</text>
<text x="504.0" y="286.0" textLength="118.0" lengthAdjust="spacing" font-family="'DejaVu Sans','Liberation Sans',sans-serif" font-size="14.399999999999999" fill="#E0893A" font-style="italic" stroke="#E0893A" stroke-width="0.5" stroke-linejoin="round">just last night!</text>
<text x="739.0" y="234.0" textLength="155.0" lengthAdjust="spacing" font-family="'DejaVu Sans','Liberation Sans',sans-serif" font-size="13.799999999999999" fill="#141414" stroke="#141414" stroke-width="0.5" stroke-linejoin="round">Serving communities</text>
<text x="737.0" y="251.0" textLength="175.5" lengthAdjust="spacing" font-family="'DejaVu Sans','Liberation Sans',sans-serif" font-size="13.799999999999999" fill="#141414" stroke="#141414" stroke-width="0.5" stroke-linejoin="round">in USA + Latin America</text>
<text x="750.0" y="269.5" textLength="196.0" lengthAdjust="spacing" font-family="'DejaVu Sans','Liberation Sans',sans-serif" font-size="13.399999999999999" fill="#E0893A" stroke="#E0893A" stroke-width="0.5" stroke-linejoin="round">Louisiana, CA, N.M., Ecuador</text>
<path d="M329 75 Q330.76 81.24 337 83 Q330.76 84.76 329 91 Q327.24 84.76 321 83 Q327.24 81.24 329 75 Z" fill="#E0893A"/>
<path d="M341.3 86.1 Q342.884 91.716 348.5 93.3 Q342.884 94.884 341.3 100.5 Q339.716 94.884 334.1 93.3 Q339.716 91.716 341.3 86.1 Z" fill="#E0893A"/>
<text x="222.5" y="457.0" textLength="92.5" lengthAdjust="spacing" font-family="'DejaVu Sans','Liberation Sans',sans-serif" font-size="12.2" fill="#141414" font-style="italic" stroke="#141414" stroke-width="0.5" stroke-linejoin="round">Scott Kerman</text>
<text x="221.0" y="474.0" textLength="89.0" lengthAdjust="spacingAndGlyphs" font-family="'DejaVu Sans','Liberation Sans',sans-serif" font-size="12.2" fill="#2F80BE" font-style="italic" stroke="#2F80BE" stroke-width="0.5" stroke-linejoin="round">Blanchet House</text>
<text x="362.0" y="457.0" textLength="129.0" lengthAdjust="spacing" font-family="'DejaVu Sans','Liberation Sans',sans-serif" font-size="12.2" fill="#141414" font-style="italic" stroke="#141414" stroke-width="0.5" stroke-linejoin="round">Andrew Kruczkiewicz</text>
<text x="383.0" y="474.0" textLength="75.0" lengthAdjust="spacing" font-family="'DejaVu Sans','Liberation Sans',sans-serif" font-size="12.2" fill="#2F80BE" font-style="italic" stroke="#2F80BE" stroke-width="0.5" stroke-linejoin="round">Columbia U</text>
<text x="522.0" y="456.0" textLength="108.0" lengthAdjust="spacing" font-family="'DejaVu Sans','Liberation Sans',sans-serif" font-size="12.2" fill="#141414" font-style="italic" stroke="#141414" stroke-width="0.5" stroke-linejoin="round">Andy Mendenhall</text>
<text x="519.0" y="474.0" textLength="121.0" lengthAdjust="spacingAndGlyphs" font-family="'DejaVu Sans','Liberation Sans',sans-serif" font-size="12.2" fill="#2F80BE" font-style="italic" stroke="#2F80BE" stroke-width="0.5" stroke-linejoin="round">Central City Concern</text>
<text x="696.0" y="456.0" textLength="76.0" lengthAdjust="spacing" font-family="'DejaVu Sans','Liberation Sans',sans-serif" font-size="12.2" fill="#141414" font-style="italic" stroke="#141414" stroke-width="0.5" stroke-linejoin="round">Ria Mukerji</text>
<text x="679.0" y="474.0" textLength="115.0" lengthAdjust="spacingAndGlyphs" font-family="'DejaVu Sans','Liberation Sans',sans-serif" font-size="12.2" fill="#2F80BE" font-style="italic" stroke="#2F80BE" stroke-width="0.5" stroke-linejoin="round">Washington State U</text>
<text x="835.0" y="455.3" textLength="117.0" lengthAdjust="spacing" font-family="'DejaVu Sans','Liberation Sans',sans-serif" font-size="12.2" fill="#141414" font-style="italic" stroke="#141414" stroke-width="0.5" stroke-linejoin="round">Jennifer Helgeson</text>
<text x="869.5" y="473.0" textLength="33.5" lengthAdjust="spacing" font-family="'DejaVu Sans','Liberation Sans',sans-serif" font-size="13.2" fill="#2F80BE" font-style="italic" stroke="#2F80BE" stroke-width="0.5" stroke-linejoin="round">NIST</text>
<text x="906.8" y="487.8" textLength="94.0" lengthAdjust="spacingAndGlyphs" font-family="'Liberation Sans',sans-serif" font-size="7.6" fill="#2b2b2b">Drawn by Urban Wild Studio</text>
<path d="M74.0 394.0 L84.0 366.0 L100.0 371.0 L128.0 382.0 L128.0 404.0 L74.0 408.0 Z" fill="#C6E0EB"/>
<path d="M182.0 421.0 L190.5 425.5 L173.6 447.5 L160.0 447.0 L160.0 436.0 Z" fill="#CFE3EC"/>
<path d="M75.6 405.0 L104.0 392.0 L130.0 396.0 L182.0 440.0 L182.0 505.0 L0.0 562.0 L0.0 484.0 L31.0 484.0 L75.6 455.0 Z" fill="#2BB3B4"/>
<path d="M0.0 394.0 L76.0 394.0 L76.0 409.0 L0.0 409.0 Z" fill="#A9D8EA"/>
<path d="M0.0 506.0 L41.0 482.5 L46.0 485.0 L50.0 483.5 L55.0 486.5 L60.0 485.5 L75.0 491.0 L74.0 533.0 L54.0 534.0 L54.0 562.0 L0.0 562.0 Z" fill="#8CC97B"/>
<path d="M76.0 533.0 L110.0 504.0 L128.5 487.5 L146.0 470.0 L173.6 447.5 L187.8 460.8 L201.2 474.2 L190.0 486.0 L205.3 500.0 L278.8 576.0 L76.0 576.0 Z" fill="#1C8DC6"/>
<path d="M96.0 522.0 L127.0 489.0 L150.0 512.0 L135.0 534.0 L96.0 545.0 Z" fill="#2397C4"/>
<path d="M76.0 533.0 L110.0 504.0 L118.0 512.0 L135.0 534.0 L125.0 545.0 L76.0 560.0 Z" fill="#1B7FB5"/>
<path d="M96.0 524.0 L118.0 504.0 L140.0 526.0 L125.0 545.0 L96.0 545.0 Z" fill="#2397C4"/>
<path d="M142.5 497.5 L221.0 576.0 L120.0 576.0 L120.0 540.0 L153.0 517.0 Z" fill="#1A7DBB"/>
<path d="M153.0 517.0 L190.0 554.0 L186.0 559.0 L133.0 559.0 L135.0 534.0 Z" fill="#14688F"/>
<path d="M187.8 460.8 L201.2 474.2 L181.8 493.8 L168.2 480.2 Z" fill="#8CCBE3"/>
<path d="M182.5 494.5 L174.0 503.0 L245.0 576.0 L260.0 576.0 Z" fill="#8CCBE3"/>
<path d="M190.0 486.0 L182.0 494.0 L260.0 576.0 L278.8 576.0 L205.3 500.0 Z" fill="#D2E8F1"/>
<path d="M25.0 539.0 L44.0 540.0 L56.0 533.0 L57.0 524.0 L69.4 524.0 L69.4 534.0 L76.0 533.0 L95.0 533.0 L95.0 560.0 L25.0 560.0 Z" fill="#1B7FB5"/>
<path d="M57.0 524.0 L69.4 524.0 L69.4 560.0 L57.0 560.0 Z" fill="#2397C4"/>
<path d="M76.0 533.0 L96.0 533.0 L96.0 560.0 L76.0 560.0 Z" fill="#2397C4"/>
<path d="M0.0 532.5 L21.0 559.0 L0.0 559.0 Z" fill="#1B7FB5"/>
<path d="M0.0 559.0 L186.0 559.0 L170.0 576.0 L0.0 576.0 Z" fill="#17497E"/>
<path d="M0.0 541.0 L21.0 559.0 L0.0 559.0 Z" fill="#17497E"/>
<path d="M96.0 538.0 L108.0 538.0 L108.0 517.0 L115.3 517.0 L115.3 513.0 L116.7 513.0 L116.7 517.0 L125.4 517.0 L125.4 533.4 L134.0 533.4 L134.0 550.0 L138.0 550.0 L138.0 542.0 L145.4 542.0 L145.4 550.0 L153.5 550.0 L153.5 560.0 L96.0 560.0 Z" fill="#17497E"/>
<rect x="110.6" y="523" width="2.4" height="17" fill="#2F86B8"/>
<rect x="115" y="523" width="2.4" height="17" fill="#2F86B8"/>
<rect x="119.4" y="523" width="2.4" height="17" fill="#2F86B8"/>
<rect x="102.5" y="544" width="2.8" height="4" fill="#3C96C2"/>
<rect x="102.5" y="550" width="2.8" height="4" fill="#3C96C2"/>
<rect x="107.5" y="544" width="2.8" height="4" fill="#3C96C2"/>
<rect x="107.5" y="550" width="2.8" height="4" fill="#3C96C2"/>
<clipPath id="wat"><path d="M0 404 L75.6 404 L75.6 455 L47.5 473.5 L31 486 L0 486 Z"/></clipPath>
<g clip-path="url(#wat)">
<rect x="0" y="404" width="76" height="84" fill="#A9D8EA"/>
<path d="M-20 500 L-20 405.5 L-51.2 405.5 Q-35.0 413.9 -18.8 405.5 Q-2.5 413.9 13.8 405.5 Q30.0 413.9 46.2 405.5 Q62.5 413.9 78.8 405.5 Q95.0 413.9 111.2 405.5 L120 500 Z" fill="#1C8DC6"/>
<path d="M-20 500 L-20 411.5 L-62.0 411.5 Q-45.0 420.7 -28.0 411.5 Q-11.0 420.7 6.0 411.5 Q23.0 420.7 40.0 411.5 Q57.0 420.7 74.0 411.5 Q91.0 420.7 108.0 411.5 L120 500 Z" fill="#17497E"/>
<path d="M-1 427 Q9 424 19 429.5 L19 433 Q9 428.5 -1 432.5 Z M65 430 Q71 426 77 429 L77 433 Q71 430.5 65 433.5 Z" fill="#1C8DC6"/>
<path d="M-20 500 L-20 439.5 L-58.0 439.5 Q-43.0 445.5 -28.0 439.5 Q-13.0 445.5 2.0 439.5 Q17.0 445.5 32.0 439.5 Q47.0 445.5 62.0 439.5 Q77.0 445.5 92.0 439.5 Q107.0 445.5 122.0 439.5 L120 500 Z" fill="#1C8DC6"/>
<path d="M-20 500 L-20 452.5 L-52.0 452.5 Q-36.0 459.7 -20.0 452.5 Q-4.0 459.7 12.0 452.5 Q28.0 459.7 44.0 452.5 Q60.0 459.7 76.0 452.5 Q92.0 459.7 108.0 452.5 L120 500 Z" fill="#17497E"/>
<path d="M-20 500 L-20 460.5 L-44.0 460.5 Q-30.0 469.7 -16.0 460.5 Q-2.0 469.7 12.0 460.5 Q26.0 469.7 40.0 460.5 Q54.0 469.7 68.0 460.5 Q82.0 469.7 96.0 460.5 Q110.0 469.7 124.0 460.5 L120 500 Z" fill="#1C8DC6"/>
<path d="M-20 500 L-20 470 L-25.0 470 Q-13.0 478.4 -1.0 470.0 Q11.0 478.4 23.0 470.0 Q35.0 478.4 47.0 470.0 Q59.0 478.4 71.0 470.0 Q83.0 478.4 95.0 470.0 Q107.0 478.4 119.0 470.0 L120 500 Z" fill="#17497E"/>
<path d="M-20 500 L-20 480.5 L-42.0 480.5 Q-30.5 487.3 -19.0 480.5 Q-7.5 487.3 4.0 480.5 Q15.5 487.3 27.0 480.5 Q38.5 487.3 50.0 480.5 Q61.5 487.3 73.0 480.5 Q84.5 487.3 96.0 480.5 Q107.5 487.3 119.0 480.5 L120 500 Z" fill="#2BB3B4"/>
</g>
<path d="M13.0 437.5 L27.8 422.5 L41.0 436.5 L68.8 437.0 L68.8 455.0 L41.0 455.0 L30.0 457.0 L16.3 455.0 L16.3 438.5 Z" fill="#E5582D"/>
<path d="M16.3 446.0 L41.0 446.0 L41.0 455.0 L30.0 457.0 L16.3 455.0 Z" fill="#EE7A2E"/>
<rect x="25.6" y="432.5" width="4.6" height="5" fill="#17497E"/>
<rect x="44.4" y="444.4" width="5.6" height="6.2" fill="#17497E"/>
<rect x="57.5" y="444.4" width="5.6" height="6.2" fill="#17497E"/>
<rect x="24.4" y="445" width="6.2" height="12" fill="#17497E"/>
<g fill="#1C8DC6"><circle cx="59.5" cy="365.3" r="22"/><circle cx="21.5" cy="373" r="12.5"/><circle cx="3" cy="387" r="11.5"/><rect x="-8" y="376" width="90" height="19.6"/></g>
<g fill="#1B86BF"><circle cx="86" cy="381.3" r="11.8"/><circle cx="61" cy="381" r="15.5"/><rect x="46" y="384" width="51.8" height="11.6"/></g>
<path d="M30.6 349 C36 362 49 375 49 388 A18 18 0 0 1 13 388 C13 375 25 362 30.6 349 Z" fill="#17497E"/>
<path d="M43 381 C47 388 45 396 38 399" fill="none" stroke="#1C8DC6" stroke-width="2.2" stroke-linecap="round"/>
<path d="M92 406 L82.5 430 M92 406 L98 423.5 M82.5 430 L98 423.5 M82.5 430 L102.5 444 M98 423.5 L102.5 444 M102.5 444 L96 455 M102.5 444 L119 451 M96 455 L119 451 M92 406 L80 398 M92 406 L108 412 M98 423.5 L108 412 M80 398 L100 396 M100 396 L92 406 M82.5 430 L96 455 M119 451 L108 412 M119 451 L113 476 M76 400 L92 406 M77 411 L88 408 M84 418 L82.5 430" stroke="#BDE8D6" stroke-width="1.15" fill="none" stroke-linecap="round"/>
<circle cx="92" cy="406" r="2.8" fill="#1E93C4"/>
<circle cx="82.5" cy="430" r="2.8" fill="#1E93C4"/>
<circle cx="98" cy="423.5" r="2.1" fill="#1E93C4"/>
<circle cx="102.5" cy="444" r="2.8" fill="#1E93C4"/>
<circle cx="96" cy="455" r="2.8" fill="#1E93C4"/>
<circle cx="119" cy="451" r="2.1" fill="#1E93C4"/>
<path d="M150.0 444.0 L178.0 432.0 L184.0 437.0 L173.6 447.5 L163.5 455.5 L154.0 452.0 Z" fill="#A9D8D3"/>
<path d="M101 412 C100.5 400 103 395 106 392 C110 386 113 378 113.5 370.6 C117 378 121 386 121.6 392.5 C121 380 122 368 127 355 C130 350 133 347 134.5 344 C133 350 133 356 135 361 C138 368 146 375 150 379.5 C151.5 374 152 368 151 362.5 C156 366 161 372 161.5 380 C162 386 163 390 166 392.5 C169 390 170.5 387 171 384 C174 388 176 392 176 397 C176.5 402 177 405 177.5 407.5 C178 406 178.5 405 178.5 404 C181 410 183 416 182 423 C180 436 170 445 156 447 L123.5 443.5 C108 438 101.5 425 101 412 Z" fill="#F28B27"/>
<path d="M108 420 C107 410 110 404 112 398 C114 404 117 408 119 412 C119 398 124 384 131 372 C132 380 136 388 141 394 C144 399 147 402 148 408 C150 402 152 396 151 390 C155 394 158 400 158 408 C160 404 162 402 164 400 C166 406 168 412 167 420 C165 432 155 440 145 442 L125 440 C114 436 108 428 108 420 Z" fill="#E9632B"/>
<path d="M118 426 C118 416 122 408 127 402 C128 410 132 414 134 420 C136 414 140 410 142 404 C145 410 147 416 147 424 C146 434 138 440 132 440 C124 440 118 434 118 426 Z" fill="#F07A2A"/>
<path d="M133.5 403.5 L139.5 417.0 L137.0 417.0 L142.5 428.0 L139.5 428.0 L146.0 440.0 L121.0 440.0 L127.5 428.0 L124.5 428.0 L130.0 417.0 L127.5 417.0 Z" fill="#17497E"/>
<path d="M151.6 390.6 L158.5 405.0 L155.5 405.0 L159.5 411.0 L156.0 411.0 L162.5 421.0 L159.0 421.0 L166.5 434.0 L163.0 434.0 L167.0 444.0 L136.0 444.0 L140.0 434.0 L136.5 434.0 L144.0 421.0 L141.0 421.0 L147.0 411.0 L143.8 411.0 L147.6 405.0 L144.8 405.0 Z" fill="#17497E"/>
<path d="M169.0 410.0 L174.0 421.0 L172.0 421.0 L176.5 431.0 L174.0 431.0 L177.5 439.0 L160.0 442.0 L164.0 431.0 L161.5 431.0 L166.0 421.0 L164.0 421.0 Z" fill="#17497E"/>
<path d="M123.5 436 C127 446 140 449 150 447.5 C162 447 172 441 177 433 L176 430 L124 432 Z" fill="#17497E"/>
<path d="M142 423 l1.5 3 l-2 0 Z M160 424 l1.5 4 l-2.5 -0.5 Z" fill="#F28B27"/>
<path d="M83.7 459 L66.5 556 M83.7 459 L100.5 556 M80 476 L87.5 476 M77.5 492 L90 492 M65 476 L102 476 M65 476 L65 481 M102 476 L102 481 M60.6 492 L106 492 M60.6 492 L60.6 497 M106 492 L106 497 M65 476 L80.5 468 M102 476 L86.8 468 M60.6 492 L78.5 482 M106 492 L89 482 M80.5 476 L90 492 M87 476 L77.5 492 M77.5 492 L93.5 513 M90 492 L74 513 M74 513 L97 535 M93.5 513 L70 535 M70 535 L100.5 556 M97 535 L66.5 556" stroke="#17497E" stroke-width="1.9" fill="none" stroke-linecap="round" stroke-linejoin="round"/>
<path d="M39.1 489.5 h1.8 v3 C45.95 493 48.5 495 48.5 498 V508.5 h2.04 v2.6 H29.46 v-2.6 h2.04 V498 C31.5 495 34.05 493 39.1 492.5 Z" fill="#17497E"/>
<path d="M33.0 511.1 L30.2 545.0 M36.9 511.1 L35.8 545.0 M40.0 511.1 L40.0 545.0 M43.1 511.1 L44.2 545.0 M47.0 511.1 L49.8 545.0 M31.5 528.0 L48.5 528.0" stroke="#17497E" stroke-width="1.3" fill="none"/>
<path d="M19.700000000000003 505.5 h1.8 v3 C25.325000000000003 509 27.35 511 27.35 514 V522.5 h1.6199999999999999 v2.6 H12.230000000000002 v-2.6 h1.6199999999999999 V514 C13.850000000000001 511 15.875000000000002 509 19.700000000000003 508.5 Z" fill="#17497E"/>
<path d="M15.0 525.1 L12.8 551.0 M18.2 525.1 L17.2 551.0 M20.6 525.1 L20.6 551.0 M23.0 525.1 L24.0 551.0 M26.2 525.1 L28.4 551.0 M13.9 538.0 L27.4 538.0" stroke="#17497E" stroke-width="1.3" fill="none"/>
<path d="M25.0 541.0 L44.0 541.5 L54.0 536.0 L54.0 560.0 L25.0 560.0 Z" fill="#1B7FB5"/>
<path d="M0.0 559.0 L186.0 559.0 L170.0 576.0 L0.0 576.0 Z" fill="#17497E"/>
<g transform="translate(145.5,470.3)"><path d="M0 -32.2 L28.7 0 L0 32.2 L-28.7 0 Z" fill="#F2B234" stroke="#F2B234" stroke-width="4" stroke-linejoin="round" transform="scale(0.93)"/><path d="M0 -27 L24 0 L0 27 L-24 0 Z" fill="none" stroke="#1D3F63" stroke-width="2" stroke-linejoin="round"/><path d="M-3.4 -15 Q0 -16.5 3.4 -15 L2.1 4.5 Q0 5.6 -2.1 4.5 Z" fill="#1D4A78"/><circle cx="0" cy="12.4" r="3.5" fill="#1D4A78"/></g>
<path d="M205.3 500 L1024 500 L1024 576 L278.8 576 Z" fill="#0D84A9"/>
<text x="284.0" y="533.0" textLength="712.8" lengthAdjust="spacingAndGlyphs" font-family="'Liberation Sans',sans-serif" font-size="19.8" fill="#fff" stroke="#fff" stroke-width="0.45" stroke-linejoin="round">Compounding, cascading, and critical risks to U.S. infrastructure and security</text>
<text x="809.0" y="553.7" textLength="187.8" lengthAdjust="spacingAndGlyphs" font-family="'Liberation Sans',sans-serif" font-size="12.2" fill="#E2B842" font-style="italic" stroke="#E2B842" stroke-width="0.42" stroke-linejoin="round">Portland, OR | August 4–6, 2025</text>
</svg>
</body></html>
